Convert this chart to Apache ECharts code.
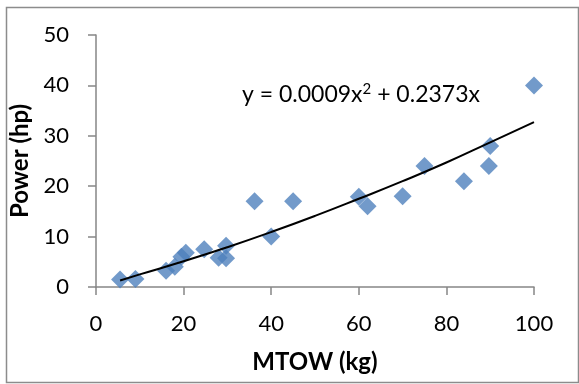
<!DOCTYPE html>
<html>
<head>
<meta charset="utf-8">
<script src="https://cdn.jsdelivr.net/npm/echarts@6/dist/echarts.min.js"></script>
<style>
  html, body { margin: 0; padding: 0; background: #fff; }
  #main { width: 579px; height: 384px; }
</style>
</head>
<body>
<div id="main"></div>
<script>
// MTOW (kg) vs power (hp)
const mtow  = [5.5, 9, 16, 18, 19.5, 20.5, 24.7, 28, 29.7, 29.7, 36.2, 40, 45, 60, 62, 70, 75, 84, 89.7, 90, 100];
const power = [1.5, 1.6, 3.2, 4.0, 6.0, 6.8, 7.5, 5.8, 8.2, 5.7, 17, 10, 17, 17.9, 16, 18, 24, 21, 24, 28, 40];

// trendline as drawn
const trendX = [5.5, 10, 20, 30, 40, 50, 60, 70, 80, 90, 100];
const trendY = [1.3, 2.5, 5.1, 7.9, 10.9, 14.1, 17.5, 21.0, 24.7, 28.7, 32.7];

const xTicks = [0, 20, 40, 60, 80, 100];
const yTicks = [0, 10, 20, 30, 40, 50];

const myChart = echarts.init(document.getElementById('main'));

const font = 'Lato, "Open Sans", sans-serif';
const axisGrey = '#868686';

const option = {
    animation: false,
    grid: { left: 96, right: 45, top: 35, bottom: 97 },
    xAxis: {
        type: 'value',
        min: xTicks[0],
        max: xTicks[xTicks.length - 1],
        interval: 20,
        name: 'MTOW (kg)',
        nameLocation: 'middle',
        nameGap: 63,
        nameTextStyle: { fontFamily: font, fontSize: 24, fontWeight: 'bold', color: '#000' },
        axisLine: { lineStyle: { color: axisGrey, width: 1.5 } },
        axisTick: { show: true, length: 8, lineStyle: { color: axisGrey, width: 1.5 } },
        axisLabel: { fontFamily: font, fontSize: 22, color: '#000', margin: 26 },
        splitLine: { show: false }
    },
    yAxis: {
        type: 'value',
        min: yTicks[0],
        max: yTicks[yTicks.length - 1],
        interval: 10,
        name: 'Power (hp)',
        nameLocation: 'middle',
        nameGap: 53,
        nameTextStyle: { fontFamily: font, fontSize: 24, fontWeight: 'bold', color: '#000' },
        axisLine: { show: true, lineStyle: { color: axisGrey, width: 1.5 } },
        axisTick: { show: true, length: 8, lineStyle: { color: axisGrey, width: 1.5 } },
        axisLabel: { fontFamily: font, fontSize: 22, color: '#000', margin: 27 },
        splitLine: { show: false }
    },
    graphic: [
        {
            type: 'rect',
            left: 4, top: 5,
            shape: { width: 572, height: 375 },
            style: { fill: 'none', stroke: '#8c8c8c', lineWidth: 1.5 },
            silent: true
        },
        {
            type: 'text',
            left: 242, top: 82,
            style: {
                text: 'y = 0.0009x{sup|2} + 0.2373x',
                fontFamily: font,
                fontSize: 23,
                fill: '#000',
                rich: {
                    sup: { fontSize: 15, verticalAlign: 'top', padding: [0, 0, 10, 0], fontFamily: font, fill: '#000' }
                }
            }
        }
    ],
    series: [
        {
            type: 'scatter',
            data: mtow.map((x, i) => [x, power[i]]),
            symbol: 'diamond',
            symbolSize: 18,
            itemStyle: { color: '#4F81BD' },
            z: 2
        },
        {
            type: 'line',
            data: trendX.map((x, i) => [x, trendY[i]]),
            smooth: true,
            showSymbol: false,
            lineStyle: { color: '#000', width: 2 },
            z: 3
        }
    ]
};

myChart.setOption(option);
</script>
</body>
</html>
